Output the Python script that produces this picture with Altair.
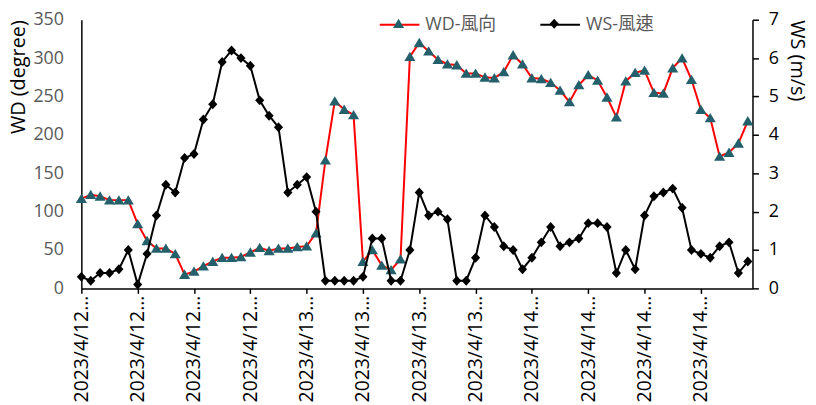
import altair as alt
import pandas as pd

series_names = ["WD-風向", "WS-風速"]

wd = [117, 122, 120, 115, 115, 115, 84, 62, 52, 52, 45, 18,
      22, 29, 35, 40, 40, 41, 47, 53, 49, 52, 52, 54,
      55, 72, 167, 244, 233, 226, 35, 50, 30, 24, 38, 302,
      320, 309, 298, 292, 291, 280, 280, 275, 274, 282, 304, 292,
      274, 273, 268, 258, 243, 265, 278, 271, 249, 223, 270, 281,
      284, 255, 254, 287, 300, 272, 233, 222, 172, 177, 189, 218]

ws = [0.3, 0.2, 0.4, 0.4, 0.5, 1.0, 0.1, 0.9, 1.9, 2.7, 2.5, 3.4,
      3.5, 4.4, 4.8, 5.9, 6.2, 6.0, 5.8, 4.9, 4.5, 4.2, 2.5, 2.7,
      2.9, 2.0, 0.2, 0.2, 0.2, 0.2, 0.3, 1.3, 1.3, 0.2, 0.2, 1.0,
      2.5, 1.9, 2.0, 1.8, 0.2, 0.2, 0.8, 1.9, 1.6, 1.1, 1.0, 0.5,
      0.8, 1.2, 1.6, 1.1, 1.2, 1.3, 1.7, 1.7, 1.6, 0.4, 1.0, 0.5,
      1.9, 2.4, 2.5, 2.6, 2.1, 1.0, 0.9, 0.8, 1.1, 1.2, 0.4, 0.7]

x_tick_values = [0, 6, 12, 18, 24, 30, 36, 42, 48, 54, 60, 66]
x_tick_labels = ["2023/4/12 00:00", "2023/4/12 06:00", "2023/4/12 12:00", "2023/4/12 18:00",
                 "2023/4/13 00:00", "2023/4/13 06:00", "2023/4/13 12:00", "2023/4/13 18:00",
                 "2023/4/14 00:00", "2023/4/14 06:00", "2023/4/14 12:00", "2023/4/14 18:00"]

wd_ticks = [0, 50, 100, 150, 200, 250, 300, 350]
ws_ticks = [0, 1, 2, 3, 4, 5, 6, 7]

ZW = "\u200b"  # zero-width marker keeps the marker legend separate from the line legend
marker_names = [s + ZW for s in series_names]

n = len(wd)
df = pd.DataFrame({
    "idx": list(range(n)) * 2,
    "series": [series_names[0]] * n + [series_names[1]] * n,
    "value": wd + ws,
})
df["marker"] = [marker_names[0]] * n + [marker_names[1]] * n

FONT = "'Open Sans', 'Noto Sans CJK TC', sans-serif"
TRI = "M0,-0.25L0.28,0.22L-0.28,0.22Z"
DIA = "M0,-0.25L0.23,0L0,0.25L-0.23,0Z"

label_expr = "[" + ",".join("'" + s + "'" for s in x_tick_labels) + "][round(datum.value / 6)]"

x_enc = alt.X(
    "idx:Q",
    scale=alt.Scale(domain=[0, 71.5], nice=False, zero=False),
    axis=alt.Axis(values=x_tick_values, labelExpr=label_expr, labelAngle=270,
                  labelAlign="right", labelBaseline="middle", labelFontSize=19.5,
                  labelFont=FONT, labelColor="#000000", labelLimit=111, labelPadding=2,
                  labelFlush=False, labelOverlap=False, tickSize=5, tickColor="#000000",
                  tickWidth=1.5, domainColor="#000000", domainWidth=1.5, grid=False, title=None),
)

left_axis = alt.Axis(values=wd_ticks, ticks=False, labelPadding=18, labelFontSize=18,
                     labelColor="#595959", labelFont=FONT, domainColor="#000000", domainWidth=1.5,
                     grid=False, title="WD (degree)", titleFontSize=20, titleFont=FONT,
                     titleFontWeight="normal", titleColor="#000000", titleAngle=270,
                     titleAnchor="end", titlePadding=4, orient="left")
right_axis = alt.Axis(values=ws_ticks, tickSize=6, tickColor="#000000", tickWidth=1.5,
                      labelPadding=10, labelFontSize=18, labelColor="#000000", labelFont=FONT,
                      domainColor="#000000", domainWidth=1.5, grid=False, title="WS (m/s)",
                      titleFontSize=20, titleFont=FONT, titleFontWeight="normal",
                      titleColor="#000000", titleAngle=90, titleAnchor="end", titleAlign="left",
                      titlePadding=8, orient="right")

stroke_scale = alt.Scale(domain=series_names, range=["#FF0000", "#000000"])
fill_scale = alt.Scale(domain=marker_names, range=["#24606B", "#000000"])
shape_scale = alt.Scale(domain=marker_names, range=[TRI, DIA])

common_leg = dict(orient="none", legendX=300, legendY=-16, direction="horizontal", title=None,
                  symbolSize=1600, labelFont=FONT, labelFontSize=18, labelColor="#595959",
                  labelOffset=5, columnPadding=40, padding=0)
stroke_legend = alt.Legend(symbolType="stroke", symbolStrokeWidth=2, **common_leg)
shape_legend = alt.Legend(symbolStrokeWidth=0, symbolOpacity=1, labelOpacity=0, **common_leg)

base = alt.Chart(df)


def series_layer(name, scale_domain, axis):
    y = alt.Y("value:Q", scale=alt.Scale(domain=scale_domain, nice=False, zero=True), axis=axis)
    filt = alt.datum.series == name
    line = base.transform_filter(filt).mark_line(strokeWidth=2).encode(
        x=x_enc, y=y,
        stroke=alt.Stroke("series:N", scale=stroke_scale, legend=stroke_legend),
    )
    pts = base.transform_filter(filt).mark_point(filled=True, size=1600, opacity=1, strokeWidth=0).encode(
        x=x_enc, y=y,
        shape=alt.Shape("marker:N", scale=shape_scale, legend=shape_legend),
        fill=alt.Fill("marker:N", scale=fill_scale, legend=shape_legend),
    )
    return alt.layer(line, pts)


wd_layer = series_layer(series_names[0], [0, 350], left_axis)
ws_layer = series_layer(series_names[1], [0, 7], right_axis)

chart = alt.layer(wd_layer, ws_layer).resolve_scale(y="independent").properties(
    width=677, height=271,
    autosize=alt.AutoSizeParams(type="none"),
    padding={"left": 74, "top": 10, "right": 56, "bottom": 140},
).configure_view(stroke=None)

chart.save("out.html", embed_options={"renderer": "svg", "actions": False})
